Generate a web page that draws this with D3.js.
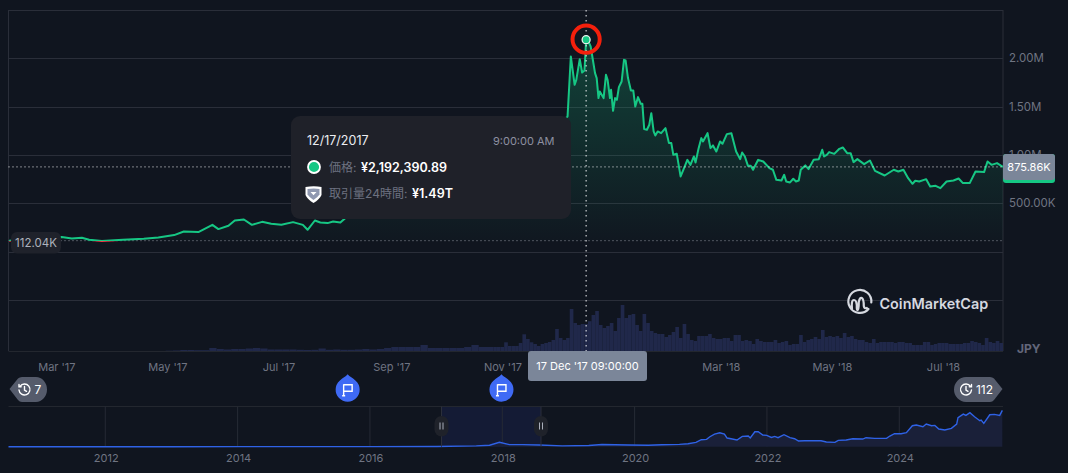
<!DOCTYPE html>
<html>
<head>
<meta charset="utf-8">
<script src="https://cdn.jsdelivr.net/npm/d3@7"></script>
<style>
html,body{margin:0;padding:0;background:#10151f;overflow:hidden}
svg{display:block}
text{font-family:Inter,"Noto Sans CJK JP",sans-serif}
</style>
</head>
<body>
<svg id="chart" width="1068" height="473"></svg>
<script>
// ---- Data ----
// days counted from 1 Mar 2017
const priceDays = [-26,-20,-10,-3,2.9,8.5,14,18,25,36.6,48,56,64.7,70,78,85.7,89,94.5,98,103,107.4,113,118,123.6,130,135.4,138,142,145,149,152,156,158.8,165,170,184,197,199,214,233,245,254,256,264,273,278,280.8,282.6,284.7,285.6,287.5,288.8,290.1,291,292.5,293.5,294.4,295.9,296.8,297.8,298.5,300.6,301.9,302.8,304.1,304.7,305.8,306.9,307.9,309,310.5,311.8,312.7,314,315.6,316.9,318,319.5,321,321.9,322.9,324.4,325.7,326.8,328.1,329,330.3,332.2,334.6,336.5,337.8,338.9,340.8,342.9,344.4,346.6,348.3,350.2,351.1,352.8,354.3,355.2,357.7,359.3,360.7,362.5,364.6,365.9,368.3,370.8,373.4,375.6,376.7,378.2,379.9,381.4,382.7,385.5,388.3,391.7,393.6,395.5,398.3,399.8,400.9,403,404.8,406.3,407.8,408.9,411.4,413.2,416,418.8,420.7,421.7,423.2,424.5,427.3,430.1,432,434.4,436.3,437.9,440,443.7,446.9,449.7,455,460,462.5,465.3,467.9,470.3,471.8,474,477.8,480,483,485.6,489,492.8,495.6,498,501.7,504.9,509.6,511.5,513.7,516.7,520];
// price in thousand JPY
const priceValues = [112.04,118,128,140,149,135,142,121,108,121,131,145,170,207,201,276,232,266,321,331,276,307,287,276,304,276,225,321,300,294,311,300,346,440,470,530,400,346,480,660,750,800,680,900,1200,1350,1398,2019,1726,1777,1991,1853,1874,2192.39,2164,2122,2019,1846,1795,1588,1657,1588,1829,1777,1588,1674,1456,1588,1570,1701,1760,1984,1977,1795,1667,1667,1501,1598,1529,1529,1267,1260,1312,1432,1243,1201,1243,1225,1277,1122,1122,1001,1011,777,846,949,897,984,922,1070,1174,1139,1225,1070,1098,1035,1139,1115,1215,1225,1035,956,1025,984,887,887,846,949,932,863,846,742,735,794,725,715,753,725,735,846,891,853,949,956,1053,984,1001,1029,1011,1063,1077,1018,1018,925,956,904,942,835,787,846,828,846,759,701,732,725,749,673,680,656,725,735,756,708,708,828,822,932,897,915,875.86];
// volume in billion JPY: one reading per 4 days from day 60, then per 2 days from day 240
const volumeEarly = [15,25,50,50,40,40,150,100,75,100,100,125,150,125,75,75,75,75,60,50,60,125,60,75,60,60,75,100,75,100,150,200,200,200,200,300,150,150,150,150,150,200,300,200,200];
const volumeLate = [200,200,200,435,250,250,250,400,835,600,435,350,250,350,400,450,550,1100,650,550,650,2100,1400,1300,1350,1350,1490,1800,2000,1300,1150,1250,1400,1000,1650,2300,1650,1800,1850,1300,1000,1850,1400,1000,900,850,850,700,800,950,1200,650,1350,850,550,500,750,750,750,850,650,600,600,650,650,500,800,800,500,550,500,350,600,500,450,450,450,550,400,450,500,300,350,350,800,450,550,600,700,600,1050,700,750,700,750,650,900,700,750,600,550,550,450,400,600,400,450,450,450,450,400,450,450,400,400,300,300,300,450,450,300,350,400,400,400,350,350,350,350,400,400,500,450,400,300,650,450,400,500,400,400];
// overview series (decimal year, million JPY)
const miniYears = [2010.53,2013,2014,2016,2017,2017.6,2017.8,2017.95,2018.1,2018.3,2018.55,2018.9,2019.3,2019.5,2019.9,2020.2,2020.4,2020.67,2020.8,2020.92,2021,2021.08,2021.13,2021.2,2021.28,2021.35,2021.39,2021.45,2021.54,2021.62,2021.71,2021.74,2021.81,2021.86,2021.93,2021.99,2022.06,2022.11,2022.16,2022.25,2022.34,2022.41,2022.47,2022.56,2022.69,2022.81,2022.89,2023.02,2023.07,2023.19,2023.29,2023.44,2023.49,2023.62,2023.8,2023.85,2023.92,2024.02,2024.1,2024.19,2024.25,2024.35,2024.4,2024.48,2024.53,2024.59,2024.68,2024.78,2024.86,2024.88,2024.96,2025,2025.06,2025.13,2025.21,2025.23,2025.27,2025.36,2025.43,2025.51,2025.55];
const miniValues = [0,0.01,0.06,0.05,0.12,0.4,0.7,2.15,1,1,0.8,0.4,0.6,1.1,0.8,0.7,0.95,1.14,1.47,2.12,3.43,3.59,4.9,6.21,6.86,6.21,4.25,3.92,3.27,5.06,5.23,4.25,7.35,7.35,5.72,5.55,4.57,5.06,4.41,5.88,4.41,3.92,2.78,2.94,2.94,2.94,2.29,2.12,3.1,3.27,3.92,3.76,4.41,4.08,4.08,5.23,6.37,6.37,6.86,10.29,10.61,9.8,11.1,10.29,10.45,8.65,8.17,8.98,11.1,14.21,16,15.35,16.66,14.7,12.74,13.06,11.43,15.68,15.84,15.35,17.8];
const axisMonths = [[2017,2],[2017,4],[2017,6],[2017,8],[2017,10],[2018,2],[2018,4],[2018,6]];
const axisYears = [2012,2014,2016,2018,2020,2022,2024];
const priceTicks = [500,1000,1500,2000];
const gridValues = [-500,0,500,1000,1500,2000,2500];
const flagDayList = [160,244.5];
const hoverDay = 291, hoverPrice = 2192.39, currentPrice = 875.86, basePrice = 112.04;

// ---- Helpers ----
const C = {bg:'#10151f',grid:'#2a2e39',axis:'#6f7482',green:'#16c784',red:'#ea3943',label:'#7b8699',blue:'#3f6af5'};
const dayDate = d => new Date(Date.UTC(2017,2,1) + d*864e5);
const svg = d3.select('#chart');
const defs = svg.append('defs');

const L = 8.5, R = 1003, T = 10, B = 351;
const x = d3.scaleUtc().domain([dayDate(-26.3),dayDate(520)]).range([L,R]);
const y = d3.scaleLinear().domain([-1030,2500]).range([B,T]);
const yVol = d3.scaleLinear().domain([0,2500]).range([B,B-50]);
const xMini = d3.scaleLinear().domain([2010.53,2025.56]).range([L,R]);
const yMini = d3.scaleLinear().domain([0,18]).range([446.7,410]);

svg.append('rect').attr('width',1068).attr('height',473).attr('fill',C.bg);

defs.append('clipPath').attr('id','plot').append('rect').attr('x',L).attr('y',T).attr('width',R-L).attr('height',B-T);
const af = defs.append('linearGradient').attr('id','areaFill').attr('gradientUnits','userSpaceOnUse')
  .attr('x1',0).attr('x2',0).attr('y1',y(hoverPrice)).attr('y2',y(basePrice));
af.append('stop').attr('offset',0).attr('stop-color',C.green).attr('stop-opacity',.26);
af.append('stop').attr('offset',1).attr('stop-color',C.green).attr('stop-opacity',.015);
const lf = defs.append('linearGradient').attr('id','lineStroke').attr('gradientUnits','userSpaceOnUse')
  .attr('x1',0).attr('x2',0).attr('y1',y(2500)).attr('y2',y(-1030));
const cut = (y(basePrice)-T)/(B-T);
[[0,C.green],[cut,C.green],[cut,C.red],[1,C.red]].forEach(s=>lf.append('stop').attr('offset',s[0]).attr('stop-color',s[1]));

// ---- Grid and frame ----
const grid = svg.append('g');
grid.selectAll('line.h').data(gridValues).join('line').attr('class','h')
  .attr('x1',L).attr('x2',R).attr('y1',d=>Math.round(y(d))+.5).attr('y2',d=>Math.round(y(d))+.5)
  .attr('stroke',C.grid);
grid.append('path').attr('d',`M${L} ${T}V${B}M${R} ${T}V${B}`).attr('stroke',C.grid).attr('fill','none');
grid.append('path').attr('d',`M${L} ${B+.5}H${R}`).attr('stroke','#23272f').attr('fill','none');

// ---- Marks ----
const pts = priceDays.map((d,i)=>({d,v:priceValues[i]}));
const plot = svg.append('g').attr('clip-path','url(#plot)');
const vols = volumeEarly.map((v,i)=>({d:60+4*i,w:4,v})).concat(volumeLate.map((v,i)=>({d:240+2*i,w:2,v})));
plot.selectAll('rect.vol').data(vols).join('rect').attr('class','vol')
  .attr('x',d=>x(dayDate(d.d))).attr('width',d=>x(dayDate(d.d+d.w))-x(dayDate(d.d)))
  .attr('y',d=>yVol(d.v)).attr('height',d=>yVol(0)-yVol(d.v)).attr('fill','#20284a');
plot.append('path').datum(pts).attr('fill','url(#areaFill)')
  .attr('d',d3.area().x(d=>x(dayDate(d.d))).y0(y(basePrice)).y1(d=>Math.min(y(d.v),y(basePrice))));
plot.append('line').attr('x1',L).attr('x2',R).attr('y1',y(basePrice)).attr('y2',y(basePrice))
  .attr('stroke','#b9bdc7').attr('stroke-dasharray','1 3').attr('stroke-opacity',.75);
plot.append('path').datum(pts).attr('fill','none').attr('stroke','url(#lineStroke)').attr('stroke-width',2)
  .attr('stroke-linejoin','round')
  .attr('d',d3.line().x(d=>x(dayDate(d.d))).y(d=>y(d.v)));

// crosshair
const hx = x(dayDate(hoverDay));
svg.append('line').attr('x1',L).attr('x2',R).attr('y1',y(currentPrice)).attr('y2',y(currentPrice))
  .attr('stroke','#f0f1f4').attr('stroke-dasharray','1 3');
svg.append('line').attr('x1',hx).attr('x2',hx).attr('y1',T).attr('y2',B)
  .attr('stroke','#f0f1f4').attr('stroke-dasharray','1.5 3.5');

// hover marker + red annotation
svg.append('circle').attr('cx',hx).attr('cy',y(hoverPrice)).attr('r',4).attr('fill',C.green).attr('stroke','#e6f2ee').attr('stroke-width',1.3);
svg.append('circle').attr('cx',hx).attr('cy',y(hoverPrice)-.5).attr('r',13.6).attr('fill','none').attr('stroke','#f5200c').attr('stroke-width',4);

// ---- Axes ----
const monthFmt = d3.utcFormat("%b '%y");
const xAxis = d3.axisBottom(x).tickValues(axisMonths.map(m=>new Date(Date.UTC(m[0],m[1],1)))).tickFormat(monthFmt).tickSize(0).tickPadding(0);
const gx = svg.append('g').attr('transform','translate(0,371)').call(xAxis);
gx.select('.domain').remove();
gx.selectAll('text').attr('fill',C.axis).attr('font-size',11).attr('dy',0).attr('font-family','Inter').attr('y',0);

const fmtPrice = v => v>=1000 ? (v/1000).toFixed(2)+'M' : v.toFixed(2)+'K';
const yAxis = d3.axisRight(y).tickValues(priceTicks).tickFormat(fmtPrice).tickSize(0).tickPadding(0);
const gy = svg.append('g').attr('transform','translate(1009,0)').call(yAxis);
gy.select('.domain').remove();
gy.selectAll('text').attr('fill',C.axis).attr('font-size',11.5).attr('x',0).attr('font-family','Inter');

svg.append('text').attr('x',1017).attr('y',353).attr('fill','#62667a').attr('font-size',12).attr('font-weight',700).text('JPY');

// current-price label
svg.append('rect').attr('x',R).attr('y',154).attr('width',52).attr('height',29).attr('rx',3).attr('fill',C.green);
svg.append('rect').attr('x',R).attr('y',154).attr('width',52).attr('height',26).attr('rx',3).attr('fill',C.label);
svg.append('text').attr('x',R+26).attr('y',167.5).attr('dy','.35em').attr('text-anchor','middle').attr('fill','#fff').attr('font-size',11).text(fmtPrice(currentPrice));

// base label
svg.append('rect').attr('x',11).attr('y',232).attr('width',50).attr('height',21.5).attr('rx',6).attr('fill','#1f222b');
svg.append('text').attr('x',36).attr('y',243).attr('dy','.35em').attr('text-anchor','middle').attr('fill','#aeb2bc').attr('font-size',11.5).text(basePrice.toFixed(2)+'K');

// time label
svg.append('rect').attr('x',528).attr('y',351).attr('width',119).attr('height',30).attr('rx',3).attr('fill',C.label);
svg.append('text').attr('x',587.5).attr('y',366).attr('dy','.35em').attr('text-anchor','middle').attr('fill','#fff').attr('font-size',11).text("17 Dec '17 09:00:00");

// ---- Tooltip ----
const tip = svg.append('g');
tip.append('rect').attr('x',291).attr('y',116).attr('width',280).attr('height',103).attr('rx',9).attr('fill','#1f2129');
tip.append('text').attr('x',307).attr('y',141).attr('dy','.35em').attr('fill','#eceef2').attr('font-size',12.5).text('12/17/2017');
tip.append('text').attr('x',554.5).attr('y',141).attr('dy','.35em').attr('text-anchor','end').attr('fill','#8d90a0').attr('font-size',11).text('9:00:00 AM');
tip.append('circle').attr('cx',314).attr('cy',167).attr('r',6).attr('fill',C.green).attr('stroke','#fff').attr('stroke-width',1.8);
tip.append('text').attr('x',329).attr('y',167.5).attr('dy','.35em').attr('fill','#6d7180').attr('font-size',12).text('価格:');
tip.append('text').attr('x',361).attr('y',167.5).attr('dy','.35em').attr('fill','#fff').attr('font-size',12.5).attr('font-weight',600).text('¥2,192,390.89');
tip.append('path').attr('d','M305.500 187q8.500-1.500 16 0v8q-2 4.500-8 8q-6-3.500-8-8z').attr('fill','#fff');
tip.append('path').attr('d','M307.500 189q6.500-1 12 0v5.500q-2 3-6 5.500q-4-2.500-6-5.500z').attr('fill','#8f98b0');
tip.append('path').attr('d','M310.500 192h6l-3 3.200z').attr('fill','#fff');
tip.append('text').attr('x',329).attr('y',193.5).attr('dy','.35em').attr('fill','#6d7180').attr('font-size',12).text('取引量24時間:');
tip.append('text').attr('x',412).attr('y',193.5).attr('dy','.35em').attr('fill','#fff').attr('font-size',12.5).attr('font-weight',600).text('¥1.49T');

// ---- Logo ----
const logo = svg.append('g').attr('fill','none').attr('stroke','#d6d9e0');
logo.append('path').attr('stroke-width',2.2).attr('stroke-linecap','round')
  .attr('d','M868.500 309A11.500 11.500 0 1 1 871.300 302.500M852 309q-1-9 2-9t2.800 8q0 2 1 2t1-8q1-5 3-4t2 8q.5 3 3 2');
svg.append('text').attr('x',879.5).attr('y',303.5).attr('dy','.36em').attr('fill','#d6d9e0').attr('font-size',14.4).attr('font-weight',600).text('CoinMarketCap');

// ---- Flags ----
const flag = svg.selectAll('g.flag').data(flagDayList).join('g').attr('class','flag')
  .attr('transform',d=>`translate(${x(dayDate(d))},389.700)`);
flag.append('path').attr('fill',C.blue).attr('d','M0 -15.500C2 -13 5 -12 8 -9A12 12 0 1 1 -8 -9C-5 -12 -2 -13 0 -15.500Z');
flag.append('path').attr('fill','none').attr('stroke','#fff').attr('stroke-width',1.4).attr('d','M-4 6V-5.500M-5.500 6H-2.500M-4 -5H4.500V1.500H-4');

// ---- Range pills ----
const pill = (d,fill)=>svg.append('path').attr('d',d).attr('fill',fill);
pill('M9.500 389L18 378.500Q19.500 377 22 377H36A11 12.500 0 0 1 36 402H22Q19.500 402 18 400Z','#555b6b');
pill('M1002.500 389L994 378.500Q992.500 377 990 377H966A12 12.500 0 0 0 966 402H990Q992.500 402 994 400Z','#555b6b');
const clock = (cx,back)=>{
  const g = svg.append('g').attr('transform',`translate(${cx},389.500)`).attr('fill','none').attr('stroke','#fff').attr('stroke-width',1.4).attr('stroke-linecap','round');
  g.append('path').attr('d',back?'M-4.500 -3.200A5.500 5.500 0 1 1 -5.500 0.500M-5.500 -5V-2.800H-3.300':'M4.500 -3.200A5.500 5.500 0 1 0 5.500 0.500M5.500 -5V-2.800H3.300');
  g.append('path').attr('d','M0 -3V0.500L2 1.800');
};
clock(24.5,true);clock(966,false);
svg.append('text').attr('x',38).attr('y',389.500).attr('dy','.35em').attr('text-anchor','middle').attr('fill','#fff').attr('font-size',12).text('7');
svg.append('text').attr('x',984.500).attr('y',389.500).attr('dy','.35em').attr('text-anchor','middle').attr('fill','#fff').attr('font-size',12).text('112');

// ---- Overview ----
const mini = svg.append('g');
const miniTop = 406.5, miniBase = yMini(0), handleL = 441.5, handleR = 541;
mini.append('rect').attr('x',handleL).attr('y',miniTop).attr('width',handleR-handleL).attr('height',miniBase-miniTop).attr('fill','#141b35');
mini.append('line').attr('x1',L).attr('x2',R).attr('y1',miniTop).attr('y2',miniTop).attr('stroke','#23272f');
mini.selectAll('line.t').data(axisYears).join('line').attr('class','t')
  .attr('x1',d=>xMini(d)-.5).attr('x2',d=>xMini(d)-.5).attr('y1',miniTop).attr('y2',miniBase).attr('stroke','#262a34');
const mp = miniYears.map((t,i)=>({t,v:miniValues[i]}));
mini.append('path').datum(mp).attr('fill','#1a2039')
  .attr('d',d3.area().x(d=>xMini(d.t)).y0(miniBase).y1(d=>yMini(d.v)));
mini.append('path').datum(mp).attr('fill','none').attr('stroke','#2f62e6').attr('stroke-width',1.4)
  .attr('d',d3.line().x(d=>xMini(d.t)).y(d=>yMini(d.v)));
[handleL,handleR].forEach(h=>{
  mini.append('line').attr('x1',h).attr('x2',h).attr('y1',miniTop).attr('y2',miniBase).attr('stroke','#2b2f3a');
  mini.append('rect').attr('x',h-7).attr('y',416).attr('width',14).attr('height',20.5).attr('rx',7).attr('fill','#1f222a');
  mini.append('path').attr('d',`M${h-1.5} 422.500v7M${h+1.5} 422.500v7`).attr('stroke','#a9aeba').attr('stroke-width',1);
});
const miniAxis = d3.axisBottom(xMini).tickValues(axisYears).tickFormat(d3.format('d')).tickSize(0).tickPadding(0);
const gm = svg.append('g').attr('transform','translate(0,462)').call(miniAxis);
gm.select('.domain').remove();
gm.selectAll('text').attr('fill',C.axis).attr('font-size',11).attr('dy',0).attr('font-family','Inter').attr('y',0);
</script>
</body>
</html>
